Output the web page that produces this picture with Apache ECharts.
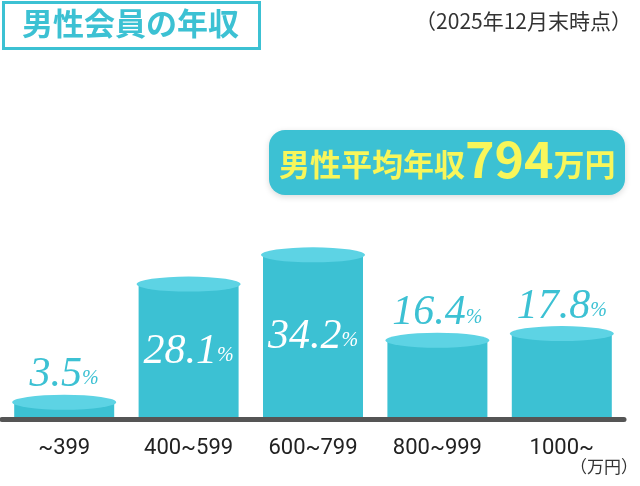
<!DOCTYPE html>
<html>
<head>
<meta charset="utf-8">
<title>男性会員の年収</title>
<script src="https://cdn.jsdelivr.net/npm/echarts@6/dist/echarts.min.js"></script>
<style>
  html, body { margin: 0; padding: 0; background: #fff; }
  #chart { width: 640px; height: 486px; }
</style>
</head>
<body>
<div id="chart"></div>
<script>
// データ
const categories = ['~399', '400~599', '600~799', '800~999', '1000~']
const percents = [3.5, 28.1, 34.2, 16.4, 17.8]
// ラベルをバーの中に入れるか
const labelInside = [false, true, true, false, false]
const titleText = '男性会員の年収'
const dateText = '（2025年12月末時点）'
const unitText = '（万円）'
const avgLabel = '男性平均年収'
const avgValue = 794
const avgUnit = '万円'

const teal = '#3cc1d3'
const tealTop = '#5dd3e4'
const yellow = '#f8f65a'

const myChart = echarts.init(document.getElementById('chart'))

// ラベル（数字 + 小さい%）
const pctRich = function (color) {
    return {
        n: {
            fontFamily: 'Liberation Serif',
            fontStyle: 'italic',
            fontSize: 42,
            color: color
        },
        p: {
            fontFamily: 'Liberation Serif',
            fontStyle: 'italic',
            fontSize: 20,
            color: color,
            padding: [8, 0, 0, 0]
        }
    }
}

const barData = percents.map(function (v, i) {
    const inside = labelInside[i]
    return {
        value: v,
        label: {
            show: true,
            position: inside ? 'inside' : 'top',
            distance: 6,
            formatter: '{n|' + v.toFixed(1) + '}{p|%}',
            rich: pctRich(inside ? '#fff' : teal)
        }
    }
})

const option = {
    animation: false,
    grid: {
        left: 2,
        right: 16,
        top: 227,
        bottom: 67
    },
    xAxis: {
        type: 'category',
        data: categories,
        axisLine: { lineStyle: { color: '#555', width: 5 } },
        axisTick: { show: false },
        axisLabel: {
            color: '#222',
            fontFamily: 'Roboto',
            fontSize: 22,
            margin: 18
        },
        z: 5
    },
    yAxis: {
        type: 'value',
        min: 0,
        max: 40,
        show: false
    },
    series: [
        {
            // 円柱の本体
            type: 'bar',
            data: barData,
            barWidth: 100,
            itemStyle: { color: teal },
            z: 2
        },
        {
            // 円柱の上面
            type: 'pictorialBar',
            data: percents,
            symbol: 'circle',
            symbolSize: [104, 15],
            symbolPosition: 'end',
            symbolOffset: [0, '-50%'],
            itemStyle: { color: tealTop },
            z: 3,
            silent: true
        }
    ],
    graphic: [
        {
            type: 'rect',
            left: 2,
            top: 1,
            shape: { width: 256, height: 46 },
            style: { fill: '#fff', stroke: teal, lineWidth: 3 }
        },
        {
            type: 'text',
            left: 22,
            top: 8,
            style: {
                text: titleText,
                fill: teal,
                fontFamily: 'Noto Sans CJK JP',
                fontWeight: 'bold',
                fontSize: 31
            }
        },
        {
            type: 'text',
            right: 8,
            top: 11,
            style: {
                text: dateText,
                fill: '#333',
                fontFamily: 'Noto Sans CJK JP',
                fontSize: 21
            }
        },
        {
            type: 'rect',
            left: 269,
            top: 130,
            shape: { width: 356, height: 65, r: 16 },
            style: {
                fill: teal,
                shadowBlur: 6,
                shadowOffsetY: 2,
                shadowColor: 'rgba(0,0,0,0.15)'
            }
        },
        {
            type: 'text',
            left: 279,
            top: 134,
            style: {
                text: '{a|' + avgLabel + '}{b|' + avgValue + '}{a|' + avgUnit + '}',
                rich: {
                    a: {
                        fill: yellow,
                        fontFamily: 'Noto Sans CJK JP',
                        fontWeight: 'bold',
                        fontSize: 31,
                        padding: [10, 0, 0, 0]
                    },
                    b: {
                        fill: yellow,
                        fontFamily: 'Noto Sans CJK JP',
                        fontWeight: 'bold',
                        fontSize: 50
                    }
                }
            }
        },
        {
            type: 'text',
            right: 2,
            top: 458,
            style: {
                text: unitText,
                fill: '#333',
                fontFamily: 'Noto Sans CJK JP',
                fontSize: 17
            }
        }
    ]
}

myChart.setOption(option)
</script>
</body>
</html>
